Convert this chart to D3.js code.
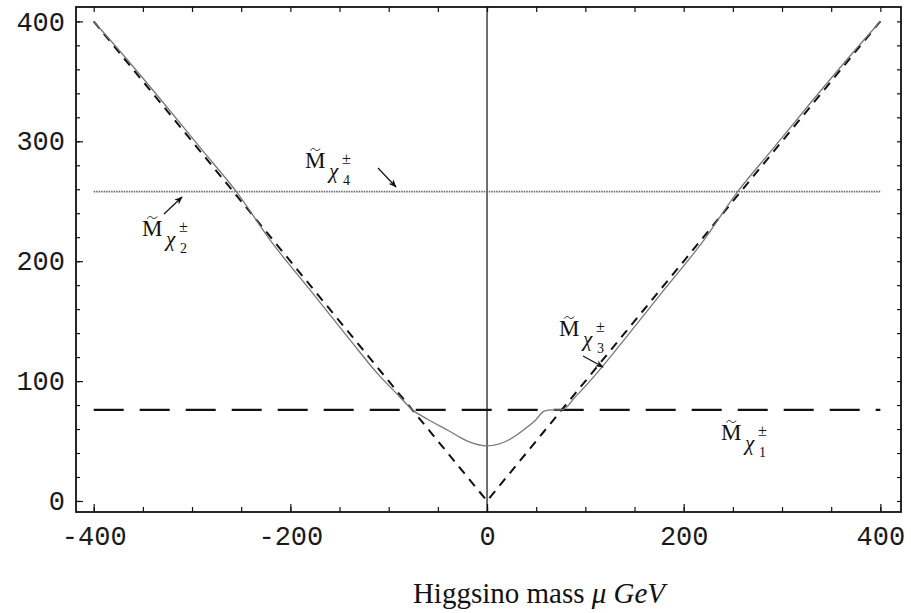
<!DOCTYPE html>
<html>
  <head>
    <meta charset="utf-8" />
    <title>Chargino masses vs Higgsino mass</title>
    <script src="https://d3js.org/d3.v7.min.js"></script>
    <style>
      body { margin: 0; background: #fff; }
      svg { display: block; }
      .tick text { font-family: "Liberation Mono", "DejaVu Sans Mono", monospace; font-size: 27px; fill: #1a1a1a; }
      .lbl { font-family: "Liberation Serif", "DejaVu Serif", serif; fill: #111; }
    </style>
  </head>
  <body>
    <div id="chart"></div>
    <script>
      // Higgsino mass mu (GeV) and the solid chargino curve
      const muValues = [-400, -370, -330, -290, -254, -220, -180, -140, -110, -90, -76, -60, -40, -20, 0,
                        20, 40, 50, 58, 66, 76, 90, 110, 140, 180, 220, 254, 290, 330, 370, 400];
      const solidMass = [400, 372, 333, 293, 257, 217, 176, 135, 105, 88, 76, 68, 59, 50, 46,
                         50, 61, 68, 75, 76, 76, 87, 105, 135, 176, 217, 257, 293, 333, 372, 400];
      // |mu| line (dashed)
      const absMu = [-400, 0, 400];
      const absMass = [400, 0, 400];
      // flat levels
      const flatMu = [-400, 400];
      const dottedMass = [258, 258];
      const longDashMass = [76, 76];

      const xMajor = [-400, -200, 0, 200, 400];
      const xMinor = d3.range(-400, 401, 50);
      const yMajor = [0, 100, 200, 300, 400];
      const yMinor = d3.range(0, 401, 20);

      const width = 911, height = 613;
      const plotLeft = 76, plotRight = 901, plotTop = 7, plotBottom = 512;

      const svg = d3.select("#chart").append("svg")
        .attr("width", width).attr("height", height);

      const x = d3.scaleLinear().domain([-418, 421]).range([plotLeft, plotRight]);
      const y = d3.scaleLinear().domain([-9.2, 412]).range([plotBottom, plotTop]);

      const noLabel = () => "";
      const intLabel = d => (d < 0 ? "-" + Math.abs(d) : String(d));

      // frame axes with inward ticks
      function styleAxis(g) {
        g.select(".domain").remove();
        g.selectAll(".tick line").attr("stroke", "#111").attr("stroke-width", 1.2);
      }
      svg.append("g").attr("transform", `translate(0,${plotBottom})`)
        .call(d3.axisBottom(x).tickValues(xMinor).tickSize(-5).tickFormat(noLabel)).call(styleAxis);
      svg.append("g").attr("transform", `translate(0,${plotBottom})`)
        .call(d3.axisBottom(x).tickValues(xMajor).tickSize(-8).tickPadding(14).tickFormat(intLabel)).call(styleAxis);
      svg.append("g").attr("transform", `translate(0,${plotTop})`)
        .call(d3.axisTop(x).tickValues(xMinor).tickSize(-5).tickFormat(noLabel)).call(styleAxis);
      svg.append("g").attr("transform", `translate(${plotLeft},0)`)
        .call(d3.axisLeft(y).tickValues(yMinor).tickSize(-4).tickFormat(noLabel)).call(styleAxis);
      svg.append("g").attr("transform", `translate(${plotLeft},0)`)
        .call(d3.axisLeft(y).tickValues(yMajor).tickSize(-7).tickPadding(11).tickFormat(intLabel)).call(styleAxis);
      svg.append("g").attr("transform", `translate(${plotRight},0)`)
        .call(d3.axisRight(y).tickValues(yMinor).tickSize(-4).tickFormat(noLabel)).call(styleAxis);

      svg.append("rect")
        .attr("x", plotLeft).attr("y", plotTop)
        .attr("width", plotRight - plotLeft).attr("height", plotBottom - plotTop)
        .attr("fill", "none").attr("stroke", "#111").attr("stroke-width", 1.8);

      // vertical line at mu = 0
      svg.append("line")
        .attr("x1", x(0)).attr("x2", x(0)).attr("y1", plotTop).attr("y2", plotBottom)
        .attr("stroke", "#111").attr("stroke-width", 1.2);

      const line = d3.line().x(d => x(d[0])).y(d => y(d[1]));

      svg.append("path")
        .datum(d3.zip(flatMu, dottedMass))
        .attr("d", line).attr("fill", "none")
        .attr("stroke", "#666").attr("stroke-width", 1.6).attr("stroke-dasharray", "1.5,1");

      svg.append("path")
        .datum(d3.zip(flatMu, longDashMass))
        .attr("d", line).attr("fill", "none")
        .attr("stroke", "#111").attr("stroke-width", 2.2).attr("stroke-dasharray", "30,16");

      svg.append("path")
        .datum(d3.zip(absMu, absMass))
        .attr("d", line).attr("fill", "none")
        .attr("stroke", "#111").attr("stroke-width", 2).attr("stroke-dasharray", "9,7");

      svg.append("path")
        .datum(d3.zip(muValues, solidMass))
        .attr("d", d3.line().x(d => x(d[0])).y(d => y(d[1])).curve(d3.curveMonotoneX))
        .attr("fill", "none")
        .attr("stroke", "#777").attr("stroke-width", 1.3);

      // labels  M~ chi_i^{+-}
      const labels = [
        { i: "4", x: 305, y: 168 },
        { i: "2", x: 142, y: 236 },
        { i: "3", x: 559, y: 336 },
        { i: "1", x: 721, y: 440 }
      ];
      labels.forEach(l => {
        const g = svg.append("g").attr("class", "lbl").attr("transform", `translate(${l.x},${l.y})`);
        g.append("text").attr("font-size", 23).text("M");
        g.append("path").attr("d", "M5.5,-17.5 C7,-20 8.5,-20 10,-18.5 S13.5,-17 15,-19.5")
          .attr("fill", "none").attr("stroke", "#111").attr("stroke-width", 1);
        g.append("text").attr("x", 24).attr("y", 10).attr("font-size", 21).attr("font-style", "italic").text("χ");
        g.append("text").attr("x", 38).attr("y", 17).attr("font-size", 14).text(l.i);
        g.append("text").attr("x", 37).attr("y", -4).attr("font-size", 16).text("±");
      });

      // arrows
      svg.append("defs").append("marker")
        .attr("id", "head").attr("viewBox", "0 0 10 10")
        .attr("refX", 9).attr("refY", 5)
        .attr("markerWidth", 7).attr("markerHeight", 7)
        .attr("orient", "auto")
        .append("path").attr("d", "M0,1 L10,5 L0,9 L3,5 Z").attr("fill", "#111");
      const arrows = [
        [378, 168, 396, 187],
        [164, 214, 182, 197],
        [583, 356, 603, 367]
      ];
      svg.selectAll(".arrow").data(arrows).join("line")
        .attr("x1", d => d[0]).attr("y1", d => d[1])
        .attr("x2", d => d[2]).attr("y2", d => d[3])
        .attr("stroke", "#111").attr("stroke-width", 1.2)
        .attr("marker-end", "url(#head)");

      // axis title
      const title = svg.append("text").attr("class", "lbl")
        .attr("x", 539).attr("y", 603).attr("text-anchor", "middle").attr("font-size", 29);
      title.append("tspan").text("Higgsino mass ");
      title.append("tspan").attr("font-style", "italic").text("μ GeV");
    </script>
  </body>
</html>
